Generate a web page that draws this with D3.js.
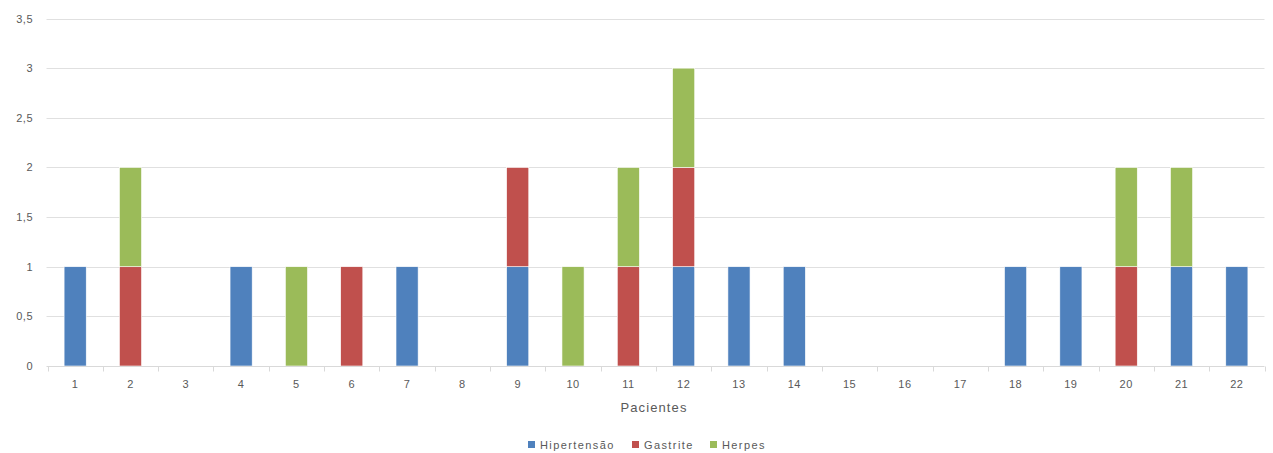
<!DOCTYPE html>
<html>
<head>
<meta charset="utf-8">
<script src="https://cdn.jsdelivr.net/npm/d3@7"></script>
<style>
  html, body { margin: 0; padding: 0; background: #fff; }
  svg text { font-family: "Liberation Sans", "DejaVu Sans", sans-serif; fill: #595959; }
</style>
</head>
<body>
<svg id="chart" width="1273" height="453"></svg>
<script>
// Patients on the x axis
const pacientes = ["1","2","3","4","5","6","7","8","9","10","11","12","13","14","15","16","17","18","19","20","21","22"];
// Number of cases per condition for each patient
const hipertensao = [1,0,0,1,0,0,1,0,1,0,0,1,1,1,0,0,0,1,1,0,1,1];
const gastrite    = [0,1,0,0,0,1,0,0,1,0,1,1,0,0,0,0,0,0,0,1,0,0];
const herpes      = [0,1,0,0,1,0,0,0,0,1,1,1,0,0,0,0,0,0,0,1,1,0];
const seriesNames = ["Hipertensão", "Gastrite", "Herpes"];
const seriesColors = ["#4F81BD", "#C0504D", "#9BBB59"];
const yTicks = [0, 0.5, 1, 1.5, 2, 2.5, 3, 3.5];

const svg = d3.select("#chart");
const margin = { left: 47.5, right: 8.5, top: 18.5, bottom: 87 };
const W = 1273, H = 453;

const x = d3.scaleBand().domain(pacientes)
  .range([margin.left, W - margin.right]).paddingInner(0.6).paddingOuter(0.3);
const y = d3.scaleLinear().domain([0, 3.5]).range([H - margin.bottom, margin.top]);

const fmt = v => String(v).replace(".", ",");

// Gridlines
svg.append("g").selectAll("line").data(yTicks.filter(t => t > 0)).join("line")
  .attr("x1", margin.left - 1).attr("x2", W - margin.right)
  .attr("y1", d => Math.round(y(d)) + 0.5).attr("y2", d => Math.round(y(d)) + 0.5)
  .attr("stroke", "#e0e0e0").attr("stroke-width", 1);

// Y axis labels
svg.append("g").selectAll("text").data(yTicks).join("text")
  .attr("x", 33).attr("y", d => y(d) + 4)
  .attr("text-anchor", "end").attr("font-size", 11)
  .attr("letter-spacing", "0.5px")
  .text(fmt);

// Stacked data
const rows = pacientes.map((p, i) => ({
  p, "Hipertensão": hipertensao[i], "Gastrite": gastrite[i], "Herpes": herpes[i]
}));
const stacked = d3.stack().keys(seriesNames)(rows);

svg.append("g").selectAll("g").data(stacked).join("g")
  .attr("fill", (d, i) => seriesColors[i])
  .selectAll("rect").data(d => d.filter(s => s[1] > s[0])).join("rect")
  .attr("x", d => x(d.data.p))
  .attr("width", x.bandwidth())
  .attr("y", d => y(d[1]))
  .attr("height", d => y(d[0]) - y(d[1]))
  .attr("stroke", "#fff").attr("stroke-width", 0.6);

// X axis
const xAxisY = Math.round(y(0)) + 0.5;
const step = x.step();
const boundaries = d3.range(pacientes.length + 1).map(i => margin.left + i * step);
const ax = svg.append("g");
ax.append("line").attr("x1", margin.left - 1).attr("x2", W - margin.right)
  .attr("y1", xAxisY).attr("y2", xAxisY).attr("stroke", "#d9d9d9");
ax.selectAll("line.tick").data(boundaries).join("line").attr("class", "tick")
  .attr("x1", d => Math.round(d) + 0.5).attr("x2", d => Math.round(d) + 0.5)
  .attr("y1", xAxisY).attr("y2", xAxisY + 5).attr("stroke", "#d9d9d9");
ax.selectAll("text").data(pacientes).join("text")
  .attr("x", d => x(d) + x.bandwidth() / 2).attr("y", 388)
  .attr("text-anchor", "middle").attr("font-size", 11)
  .attr("letter-spacing", "0.5px")
  .text(d => d);

// Axis title
svg.append("text").attr("x", 654).attr("y", 412)
  .attr("text-anchor", "middle").attr("font-size", 13)
  .attr("letter-spacing", "1.1px")
  .text("Pacientes");

// Legend
const legend = svg.append("g");
const legendX = [528, 632, 710];
seriesNames.forEach((name, i) => {
  const g = legend.append("g").attr("transform", `translate(${legendX[i]},441)`);
  g.append("rect").attr("width", 7).attr("height", 7).attr("fill", seriesColors[i]);
  g.append("text").attr("x", 12).attr("y", 7.5).attr("font-size", 11)
    .attr("letter-spacing", "1.4px").text(name);
});
</script>
</body>
</html>
